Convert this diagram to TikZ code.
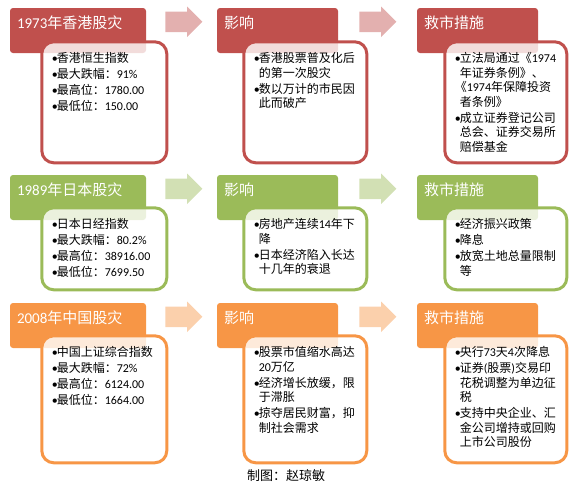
\documentclass[tikz,border=0pt]{standalone}
\usepackage{fontspec}
\setmainfont{Noto Sans CJK SC}
\newfontfamily\latf{Carlito}
\usetikzlibrary{shapes,arrows,positioning,calc}
\definecolor{hkred}{HTML}{C0504D}
\definecolor{jpgreen}{HTML}{9BBB59}
\definecolor{cnorange}{HTML}{F79646}
\newcommand{\bu}{\makebox[5pt][l]{\latf\textbullet}}
\newcommand{\ind}{\hspace*{5pt}}
\newcommand{\nm}[1]{{\latf #1}}
\tikzstyle{hdr} = [rectangle, rounded corners=3pt, text=white, align=left, inner xsep=7pt, inner ysep=0pt, text height=20pt, text depth=25pt, font=\fontsize{15}{15}\selectfont]
\tikzstyle{info} = [rectangle, draw, line width=3pt, rounded corners=12pt, fill=white, fill opacity=0.8, text opacity=1, align=left, anchor=north west, inner xsep=10pt, inner ysep=0pt, text height=21pt, font=\fontsize{12}{14.5}\selectfont]
\tikzstyle{flow} = [single arrow, minimum height=37pt, text height=10pt, text depth=10pt, single arrow head extend=5pt, inner sep=0pt]
\begin{document}
\begin{tikzpicture}[x=1pt, y=-1pt, node distance=199.5pt]
    \useasboundingbox (0,0) rectangle (576,488);
    % Headers
    \node [hdr, fill=hkred, text width=122pt] (h11) at (78,30.5) {\nm{1973}年香港股灾};
    \node [hdr, fill=hkred, text width=107pt, right of=h11] (h12) {影响};
    \node [hdr, fill=hkred, text width=107pt, right of=h12, node distance=200pt] (h13) {救市措施};
    \node [hdr, fill=jpgreen, text width=122pt, below of=h11, node distance=167pt] (h21) {\nm{1989}年日本股灾};
    \node [hdr, fill=jpgreen, text width=107pt, right of=h21] (h22) {影响};
    \node [hdr, fill=jpgreen, text width=107pt, right of=h22, node distance=200pt] (h23) {救市措施};
    \node [hdr, fill=cnorange, text width=122pt, below of=h21, node distance=128pt] (h31) {\nm{2008}年中国股灾};
    \node [hdr, fill=cnorange, text width=107pt, right of=h31] (h32) {影响};
    \node [hdr, fill=cnorange, text width=107pt, right of=h32, node distance=200pt] (h33) {救市措施};

    % Boxes
    \node [info, draw=hkred, text width=105pt, text depth=100pt] (b11) at ([shift={(30.5,32.5)}]h11.north west) {%
        \bu 香港恒生指数\\[1.5pt]
        \bu 最大跌幅：\nm{91\%}\\[1.5pt]
        \bu 最高位：\nm{1780.00}\\[1.5pt]
        \bu 最低位：\nm{150.00}};
    \node [info, draw=hkred, text width=103pt, text depth=100pt] (b12) at ([shift={(25.5,32.5)}]h12.north west) {%
        \bu 香港股票普及化后\\
        \ind 的第一次股灾\\[1.5pt]
        \bu 数以万计的市民因\\
        \ind 此而破产};
    \node [info, draw=hkred, text width=102pt, text depth=100pt] (b13) at ([shift={(26.5,32.5)}]h13.north west) {%
        \bu 立法局通过《\nm{1974}\\
        \ind 年证券条例》、\\
        \makebox[12pt][r]{《}\nm{1974}年保障投资\\
        \ind 者条例》\\[1.5pt]
        \bu 成立证券登记公司\\
        \ind 总会、证券交易所\\
        \ind 赔偿基金};
    \node [info, draw=jpgreen, text width=105pt, text depth=61pt] (b21) at ([shift={(30.5,31.5)}]h21.north west) {%
        \bu 日本日经指数\\[1.5pt]
        \bu 最大跌幅：\nm{80.2\%}\\[1.5pt]
        \bu 最高位：\nm{38916.00}\\[1.5pt]
        \bu 最低位：\nm{7699.50}};
    \node [info, draw=jpgreen, text width=103pt, text depth=61pt] (b22) at ([shift={(25.5,31.5)}]h22.north west) {%
        \bu 房地产连续\nm{14}年下\\
        \ind 降\\[1.5pt]
        \bu 日本经济陷入长达\\
        \ind 十几年的衰退};
    \node [info, draw=jpgreen, text width=102pt, text depth=61pt] (b23) at ([shift={(26.5,31.5)}]h23.north west) {%
        \bu 经济振兴政策\\[1.5pt]
        \bu 降息\\[1.5pt]
        \bu 放宽土地总量限制\\
        \ind 等};
    \node [info, draw=cnorange, text width=105pt, text depth=106pt] (b31) at ([shift={(30.5,31.5)}]h31.north west) {%
        \bu 中国上证综合指数\\[1.5pt]
        \bu 最大跌幅：\nm{72\%}\\[1.5pt]
        \bu 最高位：\nm{6124.00}\\[1.5pt]
        \bu 最低位：\nm{1664.00}};
    \node [info, draw=cnorange, text width=103pt, text depth=106pt] (b32) at ([shift={(25.5,31.5)}]h32.north west) {%
        \bu 股票市值缩水高达\\
        \ind \nm{20}万亿\\[1.5pt]
        \bu 经济增长放缓，限\\
        \ind 于滞胀\\[1.5pt]
        \bu 掠夺居民财富，抑\\
        \ind 制社会需求};
    \node [info, draw=cnorange, text width=102pt, text depth=106pt] (b33) at ([shift={(26.5,31.5)}]h33.north west) {%
        \bu 央行\nm{73}天\nm{4}次降息\\[1.5pt]
        \bu 证券\nm{(}股票\nm{)}交易印\\
        \ind 花税调整为单边征\\
        \ind 税\\[1.5pt]
        \bu 支持中央企业、汇\\
        \ind 金公司增持或回购\\
        \ind 上市公司股份};

    % Arrows
    \node [flow, fill=hkred!45, right=19pt of h11.north east, yshift=-14pt] (a11) {};
    \node [flow, fill=hkred!45, right=21pt of h12.north east, yshift=-14pt] (a12) {};
    \node [flow, fill=jpgreen!45, right=19pt of h21.north east, yshift=-14pt] (a21) {};
    \node [flow, fill=jpgreen!45, right=21pt of h22.north east, yshift=-14pt] (a22) {};
    \node [flow, fill=cnorange!45, right=19pt of h31.north east, yshift=-14pt] (a31) {};
    \node [flow, fill=cnorange!45, right=21pt of h32.north east, yshift=-14pt] (a32) {};

    % Credit
    \node (credit) at (286,476) {\fontsize{13}{13}\selectfont 制图：赵琼敏};
\end{tikzpicture}
\end{document}
